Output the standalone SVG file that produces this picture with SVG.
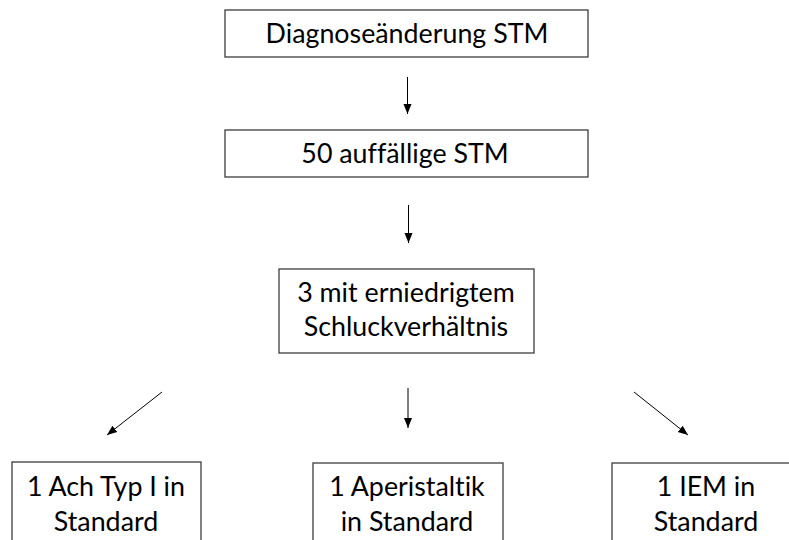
<svg xmlns="http://www.w3.org/2000/svg" width="789" height="540" viewBox="0 0 789 540">
<style>
.box{fill:#fff;stroke:#3c3c3c;stroke-width:1.3}
.t{font-family:Lato,"Liberation Sans",sans-serif;font-size:26.8px;fill:#000;text-anchor:middle;font-variant-ligatures:none}
.c{stroke:#000;stroke-width:1;fill:none;marker-end:url(#ah)}
</style>
<defs>
<marker id="ah" viewBox="0 0 10 10" refX="10" refY="5" markerWidth="10" markerHeight="10" markerUnits="userSpaceOnUse" orient="auto">
<path d="M0,1 L10,5 L0,9 Z" fill="#000"/>
</marker>
</defs>
<rect width="789" height="540" fill="#fff"/>
<g id="n1"><rect class="box" x="225" y="10" width="363" height="47"/><text class="t" x="407" y="43">Diagnoseänderung STM</text></g>
<g id="n2"><rect class="box" x="225" y="130" width="363" height="47"/><text class="t" x="405" y="163">50 auffällige STM</text></g>
<g id="n3"><rect class="box" x="279" y="269" width="255" height="84"/><text class="t" x="406" y="302">3 mit erniedrigtem</text><text class="t" x="406" y="336">Schluckverhältnis</text></g>
<g id="n4"><rect class="box" x="12" y="462" width="189" height="90"/><text class="t" x="106" y="496">1 Ach Typ I in</text><text class="t" x="106" y="531">Standard</text></g>
<g id="n5"><rect class="box" x="313" y="463" width="190" height="90"/><text class="t" x="407" y="496">1 Aperistaltik</text><text class="t" x="407" y="531">in Standard</text></g>
<g id="n6"><rect class="box" x="612" y="463" width="190" height="90"/><text class="t" x="706" y="496">1 IEM in</text><text class="t" x="706" y="531">Standard</text></g>
<g id="connectors">
<line class="c" x1="407.5" y1="77" x2="407.5" y2="114"/>
<line class="c" x1="408.5" y1="205" x2="408.5" y2="243"/>
<line class="c" x1="162" y1="392" x2="107" y2="435"/>
<line class="c" x1="408" y1="388" x2="408" y2="428"/>
<line class="c" x1="634" y1="392" x2="688" y2="435"/>
</g>
</svg>
